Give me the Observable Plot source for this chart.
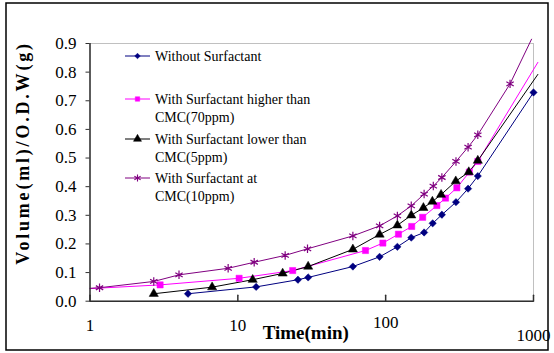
<!DOCTYPE html>
<html>
<head>
<meta charset="utf-8">
<script src="https://cdn.jsdelivr.net/npm/d3@7"></script>
<script src="https://cdn.jsdelivr.net/npm/@observablehq/plot@0.6"></script>
<style>
  html, body { margin: 0; padding: 0; background: white; }
  svg { display: block; }
  svg text { font-family: 'Liberation Serif', 'Times New Roman', serif; }
</style>
</head>
<body>
<div id="chart"></div>
<script>
// ---- Data ----
const seriesNames = [
  ["Without Surfactant"],
  ["With Surfactant higher than", "CMC(70ppm)"],
  ["With Surfactant lower than", "CMC(5ppm)"],
  ["With Surfactant at", "CMC(10ppm)"]
];
const seriesColors = ["#000080", "#FF00FF", "#000000", "#800080"];
const seriesSymbols = ["diamond2", "square", "triangle", "asterisk"];

const tWithout = [4.6, 13.3, 25.5, 29.9, 60, 91, 120, 149, 182, 208, 240, 299, 361, 420, 1000];
const vWithout = [0.026, 0.050, 0.075, 0.083, 0.121, 0.155, 0.190, 0.222, 0.240, 0.272, 0.302, 0.346, 0.393, 0.437, 0.729];

const tHigher = [1, 2.98, 10.2, 23.5, 73, 95.7, 122, 150, 178, 222, 254, 303, 368, 420, 1070];
const vHigher = [0.044, 0.057, 0.080, 0.107, 0.177, 0.203, 0.234, 0.261, 0.293, 0.334, 0.360, 0.396, 0.451, 0.488, 0.834];

const tLower = [2.7, 6.7, 12.6, 20.1, 29.9, 60, 91, 120, 149, 180, 207, 237, 298, 365, 420, 1070];
const vLower = [0.026, 0.049, 0.075, 0.097, 0.121, 0.181, 0.233, 0.265, 0.300, 0.326, 0.348, 0.372, 0.419, 0.451, 0.491, 0.792];

const tAt = [1, 1.16, 2.7, 4.0, 8.6, 12.9, 20.9, 29.6, 60, 91, 120, 149, 182, 210, 240, 299, 361, 420, 694, 970];
const vAt = [0.045, 0.047, 0.069, 0.092, 0.115, 0.136, 0.160, 0.183, 0.228, 0.263, 0.298, 0.333, 0.374, 0.402, 0.432, 0.488, 0.538, 0.581, 0.759, 0.915];

const xTicks = [1, 10, 100, 1000];
const yTicks = [0, 0.1, 0.2, 0.3, 0.4, 0.5, 0.6, 0.7, 0.8, 0.9];
const xTitle = "Time(min)";
const yTitle = "Volume(ml)/O.D.W(g)";

// ---- Build table ----
const seriesT = [tWithout, tHigher, tLower, tAt];
const seriesV = [vWithout, vHigher, vLower, vAt];
const data = [];
seriesT.forEach((ts, i) => ts.forEach((t, j) => data.push({s: i, t, v: seriesV[i][j]})));

const xDomain = [1, 1000], yDomain = [0, 0.9];
const inside = d => d.t > xDomain[0] && d.t <= xDomain[1] && d.v <= yDomain[1];

const font = "'Liberation Serif', 'Times New Roman', serif";

const marks = [
  Plot.frame({stroke: "#c0c0c0", strokeWidth: 1})
];
seriesT.forEach((_, i) => {
  const sd = data.filter(d => d.s === i);
  marks.push(Plot.line(sd, {x: "t", y: "v", stroke: seriesColors[i], strokeWidth: 1}));
});
const symR = {diamond2: 3.3, square: 3.5, triangle: 3.4, asterisk: 4};
seriesT.forEach((_, i) => {
  const sd = data.filter(d => d.s === i && inside(d));
  const sym = seriesSymbols[i];
  const filled = sym !== "asterisk";
  marks.push(Plot.dot(sd, {
    x: "t", y: "v", symbol: () => sym, r: symR[sym],
    fill: filled ? seriesColors[i] : "none",
    stroke: seriesColors[i], strokeWidth: filled ? 0.5 : 1.2
  }));
});
marks.push(
  Plot.ruleX([xDomain[0]], {stroke: "#303030", strokeWidth: 1.5}),
  Plot.ruleY([0], {stroke: "#303030", strokeWidth: 1.5}),
  Plot.axisY({ticks: yTicks, tickFormat: d => d.toFixed(1), tickSize: 4, tickPadding: 9.5,
    fontSize: 17, stroke: "#303030", label: null}),
  Plot.vector(xTicks, {x: d => d, y: () => 0, length: 6, anchor: "start", stroke: "#303030",
    shape: {draw(ctx, l) { ctx.moveTo(0, 0); ctx.lineTo(0, -l); }}}),
  Plot.axisX({ticks: xTicks, tickFormat: d => String(d), tickSize: 0, tickPadding: 18,
    fontSize: 17, label: null}),
  Plot.text([xTitle], {frameAnchor: "bottom", dx: -6, dy: 38, fontWeight: "bold", fontSize: 19, fill: "black"})
);

const svg = Plot.plot({
  width: 554, height: 353,
  marginLeft: 89.5, marginRight: 21, marginTop: 43, marginBottom: 52.3,
  style: {fontFamily: font, fontSize: "17px", background: "white", color: "black", overflow: "visible"},
  x: {type: "log", domain: xDomain, axis: null},
  y: {domain: yDomain, axis: null},
  marks
});

document.getElementById("chart").appendChild(svg);

const root = d3.select(svg);

// small vertical offsets of some x tick labels, as in the reference
const xLabelShift = {"100": -3, "1000": 10};
root.selectAll("text").filter(function() {
  return this.textContent in xLabelShift && this.closest("[aria-label='x-axis tick label']");
}).each(function() {
  const s = xLabelShift[this.textContent];
  d3.select(this).attr("transform", (d3.select(this).attr("transform") || "") + ` translate(0,${s})`);
});

// y axis title
root.append("text")
  .attr("transform", "translate(23,153) rotate(-90)")
  .attr("text-anchor", "middle").attr("dy", "0.35em")
  .attr("font-weight", "bold").attr("font-size", 18).attr("fill", "black")
  .style("letter-spacing", "2.8px")
  .text(yTitle);

// legend (inside plot area)
const lg = root.append("g").attr("font-size", 14).attr("text-anchor", "start");
const rowY = [56, 99, 139, 178];
const symMap = {diamond2: d3.symbolDiamond2, square: d3.symbolSquare, triangle: d3.symbolTriangle, asterisk: d3.symbolAsterisk};
seriesNames.forEach((lines, i) => {
  const g = lg.append("g").attr("transform", `translate(0,${rowY[i]})`);
  g.append("line").attr("x1", 125).attr("x2", 150).attr("y1", 0).attr("y2", 0)
    .attr("stroke", seriesColors[i]).attr("stroke-width", 1);
  const sym = seriesSymbols[i];
  const size = sym === "asterisk" ? 36 : sym === "triangle" ? 28 : 20;
  g.append("path").attr("transform", "translate(137.5,0)")
    .attr("d", d3.symbol(symMap[sym], size)())
    .attr("fill", sym === "asterisk" ? "none" : seriesColors[i])
    .attr("stroke", seriesColors[i]).attr("stroke-width", sym === "asterisk" ? 1.1 : 0.5);
  lines.forEach((txt, k) => {
    g.append("text").attr("x", 155).attr("y", k * 18).attr("dy", "0.35em")
      .attr("text-anchor", "start").attr("fill", "black").text(txt);
  });
});

// outer frame
root.append("rect").attr("x", 6).attr("y", 3).attr("width", 542).attr("height", 347)
  .attr("fill", "none").attr("stroke", "black").attr("stroke-width", 1.5);
</script>
</body>
</html>
